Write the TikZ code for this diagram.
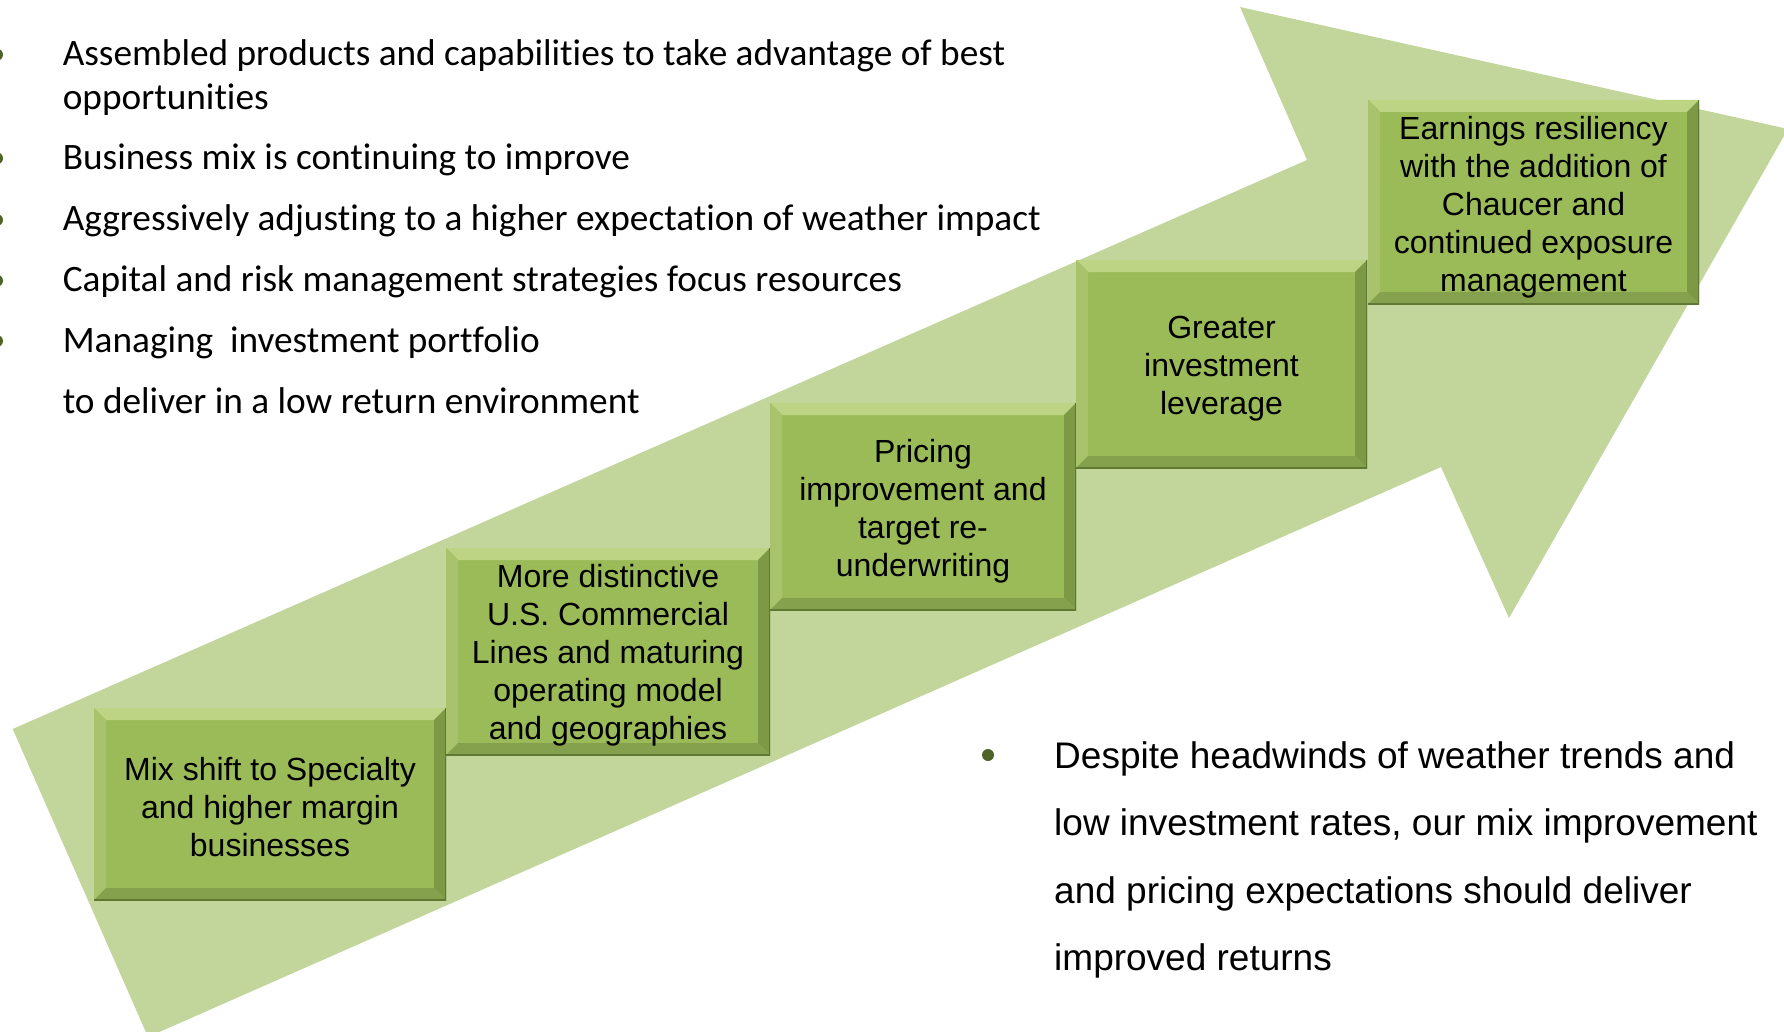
\documentclass[tikz,border=0pt]{standalone}
\usepackage{fontspec}
\setmainfont[Ligatures=NoCommon]{Liberation Sans}
\newfontfamily\bodyfont[Ligatures=NoCommon]{Carlito}
\usetikzlibrary{calc}

\definecolor{arrowgreen}{HTML}{C2D69B}
\definecolor{boxgreen}{HTML}{9BBB59}
\definecolor{bevlight}{HTML}{BDD485}
\definecolor{bevleft}{HTML}{A8C36B}
\definecolor{bevdark}{HTML}{7E9946}
\definecolor{bevbottom}{HTML}{86A14E}
\definecolor{edgedark}{HTML}{5F7834}
\definecolor{bulletgreen}{HTML}{4F6228}
\newcommand{\bevw}{12pt}

\tikzset{
  % bevelled step box: flat fill plus four edge facets
  stepbox/.style={rectangle, fill=boxgreen, inner sep=0pt,
    path picture={
      \coordinate (pNW) at (path picture bounding box.north west);
      \coordinate (pNE) at (path picture bounding box.north east);
      \coordinate (pSW) at (path picture bounding box.south west);
      \coordinate (pSE) at (path picture bounding box.south east);
      \fill[bevlight] (pNW) -- (pNE) -- ([shift={(-\bevw,-\bevw)}]pNE)
        -- ([shift={(\bevw,-\bevw)}]pNW) -- cycle;
      \fill[bevleft] (pNW) -- ([shift={(\bevw,-\bevw)}]pNW)
        -- ([shift={(\bevw,\bevw)}]pSW) -- (pSW) -- cycle;
      \fill[bevdark] (pNE) -- (pSE) -- ([shift={(-\bevw,\bevw)}]pSE)
        -- ([shift={(-\bevw,-\bevw)}]pNE) -- cycle;
      \fill[bevbottom] (pSW) -- (pSE) -- ([shift={(-\bevw,\bevw)}]pSE)
        -- ([shift={(\bevw,\bevw)}]pSW) -- cycle;
      \draw[edgedark, line width=3pt] (pNE) -- (pSE) -- (pSW);
    }},
  steptext/.style={inner sep=0pt, align=center,
    font=\fontsize{32}{38}\selectfont},
  listline/.style={anchor=base west, inner sep=0pt,
    font=\bodyfont\fontsize{37.3}{44}\selectfont},
  noteline/.style={anchor=base west, inner sep=0pt,
    font=\fontsize{37}{44}\selectfont},
  dotmark/.style={circle, fill=bulletgreen, inner sep=0pt, minimum size=12pt}
}

\begin{document}
\begin{tikzpicture}[x=1pt, y=-1pt]
\useasboundingbox (0,0) rectangle (1784,1032);
\clip (0,0) rectangle (1784,1032);

% rising arrow
\fill[arrowgreen] (12.7,729) -- (1307,160) -- (1240,7) -- (1788,129)
  -- (1509,618) -- (1441,467) -- (148,1037) -- cycle;

% steps
\node[stepbox, minimum width=352pt, minimum height=192pt] (b1) at (270,804) {};
\node[stepbox, minimum width=324pt, minimum height=207pt] (b2) at (608,651.5) {};
\node[stepbox, minimum width=306pt, minimum height=207pt] (b3) at (923,506.5) {};
\node[stepbox, minimum width=291pt, minimum height=208pt] (b4) at (1221.5,364) {};
\node[stepbox, minimum width=331pt, minimum height=204pt] (b5) at (1533.5,202) {};

\node[steptext] (t1) at ([yshift=-3pt]b1.center)
  {Mix shift to Specialty\\and higher margin\\businesses};
\node[steptext] (t2) at ([yshift=-4pt]b2.center)
  {More distinctive\\U.S. Commercial\\Lines and maturing\\operating model\\and geographies};
\node[steptext] (t3) at ([yshift=-5pt]b3.center)
  {Pricing\\improvement and\\target re-\\underwriting};
\node[steptext] (t4) at ([yshift=-5pt]b4.center)
  {Greater\\investment\\leverage};
\node[steptext] (t5) at ([yshift=-5pt]b5.center)
  {Earnings resiliency\\with the addition of\\Chaucer and\\continued exposure\\management};

% upper left list
\node[dotmark] (d1) at (-3,54.7) {};
\node[dotmark] (d2) at (-3,158.3) {};
\node[dotmark] (d3) at (-3,220) {};
\node[dotmark] (d4) at (-3,280.7) {};
\node[dotmark] (d5) at (-3,341) {};
\node[listline] (l1) at (62.6,65.7) {Assembled products and capabilities to take advantage of best};
\node[listline] (l2) at (62.6,110) {opportunities};
\node[listline] (l3) at (62.6,169.3) {Business mix is continuing to improve};
\node[listline] (l4) at (62.6,231) {Aggressively adjusting to a higher expectation of weather impact};
\node[listline] (l5) at (62.6,291.7) {Capital and risk management strategies focus resources};
\node[listline] (l6) at (62.6,352) {Managing\ \ investment portfolio};
\node[listline] (l7) at (62.6,413) {to deliver in a low return environment};

% lower right note
\node[dotmark] (d6) at (988,755) {};
\node[noteline] (n1) at (1054,768) {Despite headwinds of weather trends and};
\node[noteline] (n2) at (1054,835.5) {low investment rates, our mix improvement};
\node[noteline] (n3) at (1054,903) {and pricing expectations should deliver};
\node[noteline] (n4) at (1054,970.5) {improved returns};
\end{tikzpicture}
\end{document}
